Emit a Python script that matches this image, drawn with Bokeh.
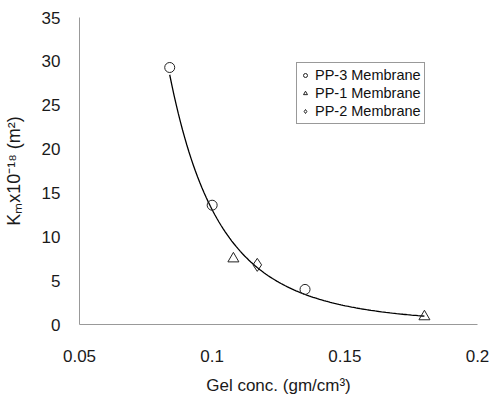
import numpy as np
from bokeh.plotting import figure
from bokeh.models import Legend, LegendItem, Range1d, FixedTicker
from bokeh.embed import file_html
from bokeh.resources import INLINE

# Data
pp3_x = [0.084, 0.100, 0.135]
pp3_y = [29.3, 13.6, 4.0]
pp1_x = [0.108, 0.180]
pp1_y = [7.5, 0.9]
pp2_x = [0.117]
pp2_y = [6.8]

x_ticks = [0.05, 0.1, 0.15, 0.2]
y_ticks = [0, 5, 10, 15, 20, 25, 30, 35]

# Power-law trendline fitted to all data points (as a spreadsheet trendline)
all_x = np.array(pp3_x + pp1_x + pp2_x)
all_y = np.array(pp3_y + pp1_y + pp2_y)
b, lna = np.polyfit(np.log(all_x), np.log(all_y), 1)
fit_x = np.linspace(all_x.min(), all_x.max(), 120)
fit_y = np.exp(lna) * fit_x ** b

p = figure(width=496, height=398, output_backend="svg", toolbar_location=None,
           x_range=Range1d(0.05, 0.2), y_range=Range1d(0, 35),
           min_border_left=77, min_border_right=19, min_border_top=17, min_border_bottom=74)
p.outline_line_color = None
p.grid.grid_line_color = None
p.background_fill_color = "white"

p.line(fit_x, fit_y, line_color="black", line_width=1.3)

r3 = p.scatter(pp3_x, pp3_y, marker="circle", size=10, fill_color=None, line_color="#222", line_width=1)
r1 = p.scatter(pp1_x, pp1_y, marker="triangle", size=11, fill_color=None, line_color="#222", line_width=1)
r2 = p.scatter(pp2_x, pp2_y, marker="diamond", size=13, fill_color=None, line_color="#222", line_width=1)

for ax in (p.xaxis[0], p.yaxis[0]):
    ax.axis_line_color = "#999999"
    ax.axis_line_width = 1
    ax.major_tick_line_color = None
    ax.minor_tick_line_color = None
    ax.major_label_text_font = "Liberation Sans"
    ax.major_label_text_font_size = "17px"
    ax.major_label_text_color = "#1a1a1a"
    ax.axis_label_text_font = "Liberation Sans"
    ax.axis_label_text_font_style = "normal"
    ax.axis_label_text_color = "#1a1a1a"

p.xaxis[0].axis_label_text_font_size = "17px"
p.yaxis[0].axis_label_text_font_size = "18px"
p.xaxis[0].ticker = FixedTicker(ticks=x_ticks)
p.yaxis[0].ticker = FixedTicker(ticks=y_ticks)
p.xaxis[0].major_label_overrides = {0.05: "0.05", 0.1: "0.1", 0.15: "0.15", 0.2: "0.2"}
p.xaxis[0].major_label_standoff = 19
p.yaxis[0].major_label_standoff = 13
p.xaxis[0].axis_label = "Gel conc. (gm/cm\u00b3)"
p.yaxis[0].axis_label = "K\u2098x10\u207b\u00b9\u2078 (m\u00b2)"
p.xaxis[0].axis_label_standoff = 11
p.yaxis[0].axis_label_standoff = 15

legend = Legend(items=[
    LegendItem(label="PP-3 Membrane", renderers=[r3]),
    LegendItem(label="PP-1 Membrane", renderers=[r1]),
    LegendItem(label="PP-2 Membrane", renderers=[r2]),
], location=(217, 200))
legend.label_text_font = "Liberation Sans"
legend.label_text_font_size = "14.5px"
legend.label_text_color = "#111111"
legend.border_line_color = "#333333"
legend.border_line_width = 1
legend.background_fill_color = "white"
legend.padding = 3
legend.spacing = 0
legend.margin = 0
legend.glyph_width = 10
legend.glyph_height = 18
legend.label_standoff = 5
legend.label_height = 18
p.add_layout(legend, "center")

open("out.html", "w").write(file_html(p, INLINE))
